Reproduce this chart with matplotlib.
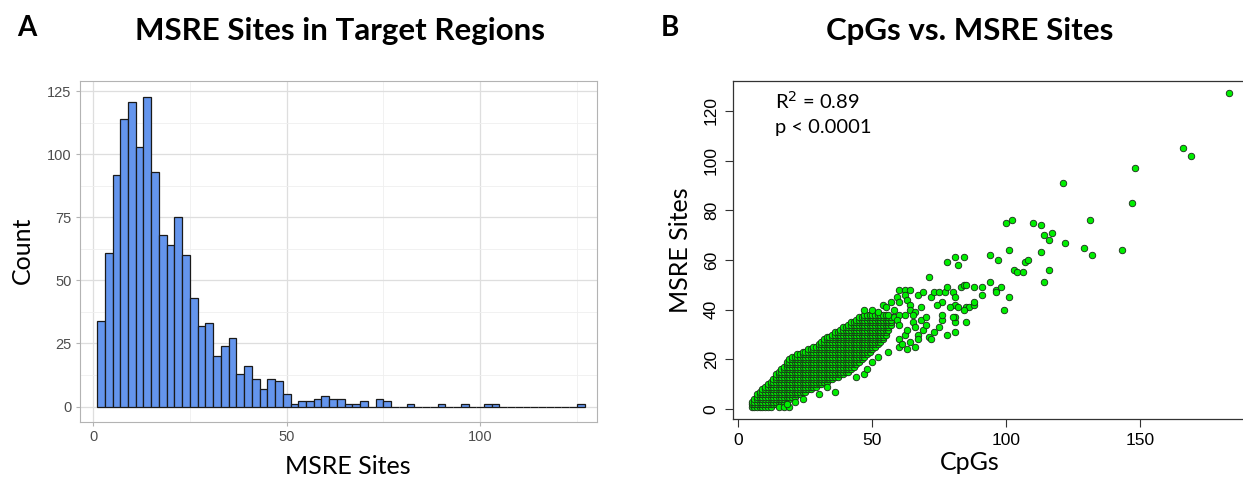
import numpy as np
import matplotlib
matplotlib.use('Agg')
import matplotlib.pyplot as plt

W, H = 1243, 483

# --- panel A: histogram of MSRE sites per target region (bins of width 2 from 1 to 127)
bin_start = 1
bin_width = 2
hist_counts = [34, 61, 92, 114, 121, 103, 123, 93, 68, 64, 75, 60, 43, 32, 33,
               20, 24, 27, 13, 16, 11, 7, 11, 10, 5, 1, 2,
               2, 3, 4, 3, 3, 1, 1, 2, 0, 3, 2, 0, 0, 1, 0, 0, 0, 1, 0, 0, 1,
               0, 0, 1, 1, 0, 0, 0, 0, 0, 0, 0, 0, 0, 0, 1]

# --- panel B: CpGs vs MSRE sites
# dense core, one row per MSRE value: CpG range that is filled
core_msre = list(range(1, 39))
core_cpg_lo = [5, 5, 5, 6, 7, 7, 8, 9, 10, 11, 12, 13, 14, 14, 15, 16, 17, 18, 18,
               19, 20, 22, 24, 26, 28, 30, 31, 32, 33, 35, 36, 38, 39, 41, 42, 44, 45, 47]
core_cpg_hi = [12, 15, 17, 19, 21, 23, 25, 27, 29, 31, 33, 35, 37, 39, 41, 42, 43, 44, 45,
               46, 47, 48, 49, 50, 51, 52, 53, 54, 54, 55, 55, 56, 56, 57, 57, 57, 58, 56]

# loose points outside the core
sparse_cpg = [15, 17, 19, 18, 21, 24, 30, 36, 33, 44, 47, 48, 50, 52, 56, 60, 63,
              47, 50, 52, 54, 55, 57, 59, 60, 60, 62, 64, 62, 63, 64, 58, 60, 62, 64,
              66, 68, 67, 69, 71, 72, 73, 75, 77, 80, 81, 76, 74, 81, 82, 79, 85, 86,
              84, 88, 88, 78, 83, 84, 85, 88, 91, 91, 96, 96, 98, 101, 99, 94,
              59, 60, 62, 60, 63, 65, 66, 67, 68, 69, 70, 71, 72, 75, 76, 76, 78, 81,
              81, 81, 80, 85, 64, 66, 61, 65, 67, 70, 73,
              78, 81, 84, 82, 94, 97, 101, 107, 108, 103, 104, 106, 116, 114, 113,
              100, 102, 110, 113, 114, 117, 116, 122, 129, 132, 143, 131, 121, 147,
              148, 166, 169, 183]
sparse_msre = [1, 1, 1, 2, 3, 4, 6, 7, 9, 13, 14, 16, 19, 21, 23, 25, 24,
               40, 40, 39, 42, 41, 43, 45, 43, 48, 48, 48, 46, 44, 42, 40, 38, 38, 40,
               39, 41, 46, 47, 53, 45, 47, 47, 47, 47, 45, 43, 42, 42, 41, 41, 41, 41,
               40, 42, 43, 49, 49, 50, 50, 49, 49, 46, 48, 47, 49, 45, 40, 51,
               36, 34, 30, 28, 32, 35, 33, 30, 36, 32, 37, 29, 28, 33, 36, 38, 30, 31,
               35, 37, 37, 35, 27, 25, 26, 38, 28, 34, 31,
               59, 61, 61, 58, 62, 60, 64, 59, 60, 56, 55, 55, 56, 51, 63,
               75, 76, 75, 74, 70, 71, 68, 67, 65, 62, 64, 76, 91, 83,
               97, 105, 102, 127]

# build point arrays for the scatter
cpg = []
msre = []
for y, lo, hi in zip(core_msre, core_cpg_lo, core_cpg_hi):
    for x in range(lo, hi + 1):
        cpg.append(x)
        msre.append(y)
cpg += sparse_cpg
msre += sparse_msre

fig = plt.figure(figsize=(W / 100, H / 100), dpi=100)

def box(l, t, r, b):
    return [l / W, 1 - b / H, (r - l) / W, (b - t) / H]

TITLE_FONT = ['Lato', 'DejaVu Sans']

# ---------------- panel A ----------------
ax1 = fig.add_axes(box(80, 81, 597, 422))
edges = bin_start + bin_width * np.arange(len(hist_counts))
ax1.bar(edges, hist_counts, width=bin_width, align='edge', color='#6495ED',
        edgecolor='#1a1a1a', linewidth=0.9, zorder=3)
ax1.set_xlim(-3.4, 130.2)
ax1.set_ylim(-6.15, 129.15)
ax1.set_xticks([0, 50, 100])
ax1.set_yticks([0, 25, 50, 75, 100, 125])
ax1.set_xticks([25, 75, 125], minor=True)
ax1.set_yticks([12.5, 37.5, 62.5, 87.5, 112.5], minor=True)
ax1.grid(True, which='major', color='#DEDEDE', linewidth=0.9, zorder=0)
ax1.grid(True, which='minor', color='#EFEFEF', linewidth=0.6, zorder=0)
ax1.set_axisbelow(True)
for s in ax1.spines.values():
    s.set_color('#B3B3B3')
    s.set_linewidth(0.8)
ax1.tick_params(which='major', length=3, color='#B3B3B3', labelsize=10.5,
                labelcolor='#4D4D4D', pad=3)
ax1.tick_params(which='minor', length=0)
for lab in ax1.get_xticklabels() + ax1.get_yticklabels():
    lab.set_family('Liberation Sans')

# ---------------- panel B ----------------
ax2 = fig.add_axes(box(732.7, 81, 1248, 419))
ax2.scatter(cpg, msre, s=22, facecolor='#00EE00', edgecolor='#1a2a1a',
            linewidths=0.6, zorder=3)
ax2.set_xlim(-2.1, 190.1)
ax2.set_ylim(-4, 132)
ax2.set_xticks([0, 50, 100, 150])
ax2.set_yticks([0, 20, 40, 60, 80, 100, 120])
for s in ax2.spines.values():
    s.set_color('#333333')
    s.set_linewidth(0.9)
ax2.tick_params(length=6, color='#333333', labelsize=12.5, pad=4)
for lab in ax2.get_xticklabels():
    lab.set_family('Liberation Sans')
for lab in ax2.get_yticklabels():
    lab.set_family('Liberation Sans')
    lab.set_rotation(90)
    lab.set_va('center')

ax2.text(775 / W, 1 - 101 / H, 'R$^2$ = 0.89', transform=fig.transFigure,
         fontsize=14.5, family=TITLE_FONT, va='center', ha='left')
ax2.text(775 / W, 1 - 128 / H, 'p < 0.0001', transform=fig.transFigure,
         fontsize=14.5, family=TITLE_FONT, va='center', ha='left')

# ---------------- titles / labels ----------------
fig.text(27 / W, 1 - 28 / H, 'A', fontsize=20, weight='bold', family=TITLE_FONT,
         ha='center', va='center')
fig.text(670 / W, 1 - 28 / H, 'B', fontsize=20, weight='bold', family=TITLE_FONT,
         ha='center', va='center')
fig.text(340 / W, 1 - 31 / H, 'MSRE Sites in Target Regions', fontsize=22.5,
         weight='bold', family=TITLE_FONT, ha='center', va='center')
fig.text(970 / W, 1 - 31 / H, 'CpGs vs. MSRE Sites', fontsize=22.5,
         weight='bold', family=TITLE_FONT, ha='center', va='center')

fig.text(348 / W, 1 - 467 / H, 'MSRE Sites', fontsize=18, family=TITLE_FONT,
         ha='center', va='center')
fig.text(22 / W, 1 - 250 / H, 'Count', fontsize=18, family=TITLE_FONT,
         ha='center', va='center', rotation=90)
fig.text(970 / W, 1 - 462 / H, 'CpGs', fontsize=18, family=TITLE_FONT,
         ha='center', va='center')
fig.text(680 / W, 1 - 250 / H, 'MSRE Sites', fontsize=18, family=TITLE_FONT,
         ha='center', va='center', rotation=90)

fig.savefig('out.png', dpi=100)
